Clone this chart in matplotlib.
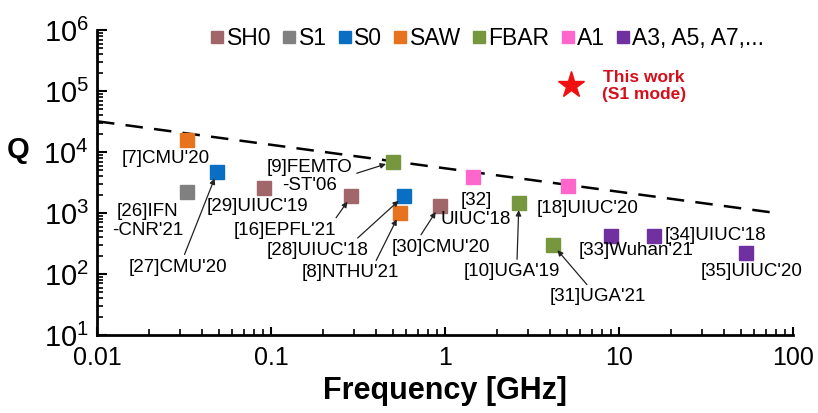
import numpy as np
import matplotlib.pyplot as plt
from matplotlib.lines import Line2D
from matplotlib.ticker import LogLocator, NullFormatter

plt.rcParams['font.family'] = ['Liberation Sans', 'DejaVu Sans']
plt.rcParams['mathtext.default'] = 'regular'

# Mode categories and colours
modes = ['SH0', 'S1', 'S0', 'SAW', 'FBAR', 'A1', 'A3, A5, A7,...']
mode_colors = ['#A0666A', '#808080', '#0A6FC2', '#E8731E', '#77973F', '#FF66CC', '#7030A0']

# Reported resonators: frequency [GHz], Q, mode
freq = [0.033, 0.049, 0.033, 0.091, 0.29, 0.50, 0.58, 0.55, 0.93, 1.44, 2.66, 5.1, 4.17, 9.0, 15.8, 54]
qval = [1.6e4, 4.7e3, 2.2e3, 2.6e3, 1.9e3, 6.9e3, 1.9e3, 1.0e3, 1.3e3, 3.9e3, 1.45e3, 2.8e3, 300, 420, 420, 220]
mode = ['SAW', 'S0', 'S1', 'SH0', 'SH0', 'FBAR', 'S0', 'SAW', 'SH0', 'A1', 'FBAR', 'A1', 'FBAR', 'A3, A5, A7,...', 'A3, A5, A7,...', 'A3, A5, A7,...']
labels = ["[7]CMU'20", "[27]CMU'20", "[26]IFN\n-CNR'21", "[29]UIUC'19", "[16]EPFL'21",
          "[9]FEMTO\n-ST'06", "[28]UIUC'18", "[8]NTHU'21", "[30]CMU'20", "[32]\nUIUC'18",
          "[10]UGA'19", "[18]UIUC'20", "[31]UGA'21", "[33]Wuhan'21", "[34]UIUC'18", "[35]UIUC'20"]
# label placement (data coords); arrow start on the text box (None = no arrow)
label_pos = [(0.0249, 7.9e3), (0.0292, 130), (0.0196, 740), (0.084, 1.26e3), (0.12, 525),
             (0.167, 4.0e3), (0.186, 245), (0.284, 104), (0.95, 275), (1.51, 1.12e3),
             (2.43, 108), (6.64, 1.2e3), (7.57, 42), (12.5, 245), (36, 420), (58, 108)]
arrow_from = [None, (0.55, 1), None, None, (0.95, 0.8),
              (1, 0.55), (0.85, 1), (0.75, 1), (0.27, 1), None,
              (0.55, 1), None, (0.42, 1), None, None, None]

# This work
this_freq = 5.3
this_q = 1.26e5

# Dashed trend line
line_f = [0.01, 80]
line_q = [3.2e4, 1.0e3]

fig = plt.figure(figsize=(8.18, 4.13), dpi=100)
ax = fig.add_axes([0.1186, 0.189, 0.8508, 0.738])

ax.plot(line_f, line_q, color='black', lw=1.8, dashes=(7, 4.5), zorder=1)

color_of = dict(zip(modes, mode_colors))
for f, q, m in zip(freq, qval, mode):
    ax.plot(f, q, 's', color=color_of[m], markersize=9.5, zorder=3)

ax.plot(this_freq, this_q, '*', color='#F01010', markersize=20, zorder=3)
ax.text(13.9, 1.2e5, 'This work\n(S1 mode)', color='#D4101C', fontsize=12.5,
        fontweight='bold', ha='center', va='center', linespacing=1.15)

for i, lab in enumerate(labels):
    if arrow_from[i] is not None:
        ax.annotate(lab, xy=(freq[i], qval[i]), xytext=label_pos[i],
                    fontsize=13.5, ha='center', va='center', linespacing=1.1,
                    arrowprops=dict(arrowstyle='-|>', color='#222222', lw=0.9,
                                    shrinkA=1, shrinkB=5, mutation_scale=8,
                                    relpos=arrow_from[i]))
    else:
        ax.text(label_pos[i][0], label_pos[i][1], lab, fontsize=13.5,
                ha='center', va='center', linespacing=1.1)

ax.set_xscale('log')
ax.set_yscale('log')
ax.set_xlim(0.01, 100)
ax.set_ylim(10, 1e6)

ax.set_xticks([0.01, 0.1, 1, 10, 100])
ax.set_xticklabels(['0.01', '0.1', '1', '10', '100'])
ax.xaxis.set_minor_locator(LogLocator(base=10, subs=np.arange(2, 10)))
ax.xaxis.set_minor_formatter(NullFormatter())
ax.yaxis.set_minor_locator(LogLocator(base=10, subs=np.arange(2, 10)))
ax.yaxis.set_minor_formatter(NullFormatter())

ax.tick_params(axis='x', which='major', direction='in', length=6, width=1.5, labelsize=18, pad=8)
ax.tick_params(axis='x', which='minor', direction='in', length=4, width=1.2)
ax.tick_params(axis='y', which='major', direction='in', length=7, width=1.5, labelsize=21, pad=6)
ax.tick_params(axis='y', which='minor', direction='in', length=4, width=1.2)

for s in ['top', 'right']:
    ax.spines[s].set_visible(False)
for s in ['left', 'bottom']:
    ax.spines[s].set_linewidth(2)

ax.set_xlabel('Frequency [GHz]', fontsize=22, fontweight='bold', labelpad=4)
ax.set_ylabel('Q', fontsize=21, fontweight='bold', rotation=0, va='center')
ax.yaxis.set_label_coords(-0.113, 0.607)

handles = [Line2D([], [], marker='s', ls='none', color=c, markersize=8) for c in mode_colors]
ax.legend(handles, modes, ncol=7, loc='upper left', bbox_to_anchor=(0.14, 1.04), frameon=False,
          fontsize=16.5, handletextpad=-0.2, columnspacing=0.2, handlelength=1.2, borderaxespad=0)

fig.savefig('out.png', dpi=100)
